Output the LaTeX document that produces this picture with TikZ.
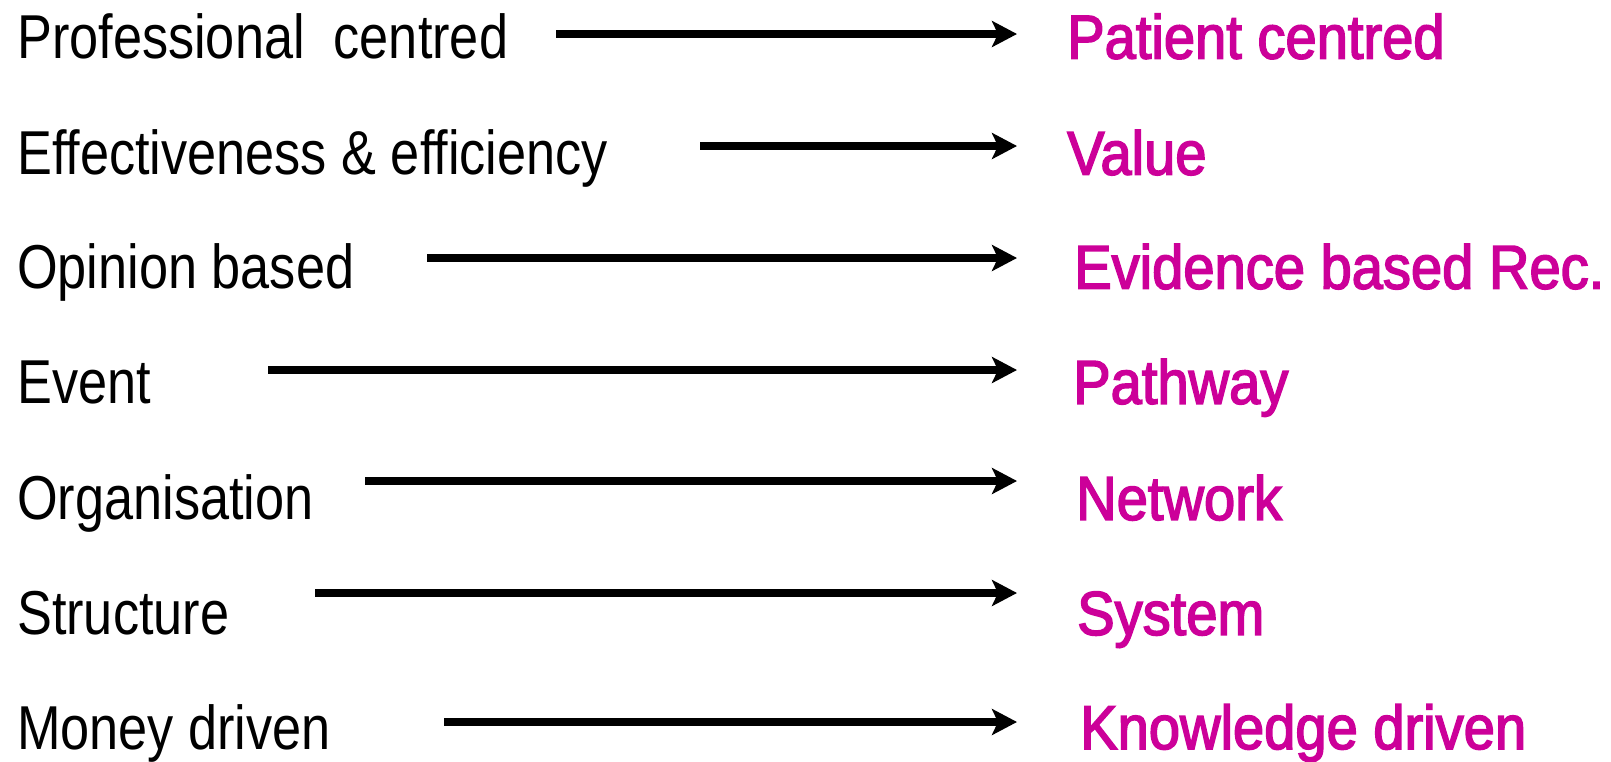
\documentclass[tikz,border=0pt]{standalone}
\usepackage{fontspec}
\setmainfont{Liberation Sans}[FakeStretch=0.843]
\newfontfamily\pinkfont{Liberation Sans}[FakeStretch=0.905,FakeBold=2.5]
\usetikzlibrary{arrows.meta}
\definecolor{pinkt}{RGB}{204,0,153}
\begin{document}
\begin{tikzpicture}[x=1pt,y=-1pt,
  lefttxt/.style={anchor=base west,inner sep=0pt,font=\fontsize{62}{70}\selectfont},
  righttxt/.style={anchor=base west,inner sep=0pt,text=pinkt,font=\pinkfont\fontsize{62}{70}\selectfont},
  arr/.style={line width=8pt,-{Stealth[length=25pt,width=26pt,inset=6pt]}}]
\useasboundingbox (0,0) rectangle (1611,761);
% left texts
\node[lefttxt] (l1) at (17,58.6) {Professional\ \ centred};
\node[lefttxt] (l2) at (17,174.7) {Effectiveness \& efficiency};
\node[lefttxt] (l3) at (17,288.7) {Opinion based};
\node[lefttxt] (l4) at (17,403.8) {Event};
\node[lefttxt] (l5) at (17,519.9) {Organisation};
\node[lefttxt] (l6) at (17,634.9) {Structure};
\node[lefttxt] (l7) at (17,749) {Money driven};
% right texts
\node[righttxt] (r1) at (1067,58.6) {Patient centred};
\node[righttxt] (r2) at (1067,174.7) {Value};
\node[righttxt] (r3) at (1074,288.7) {Evidence based Rec.};
\node[righttxt] (r4) at (1073,403.8) {Pathway};
\node[righttxt] (r5) at (1076,519.9) {Network};
\node[righttxt] (r6) at (1077,634.9) {System};
\node[righttxt] (r7) at (1080,749) {Knowledge driven};
% arrow ends
\coordinate (s1) at (556,34);  \coordinate (e1) at (1017,34);
\coordinate (s2) at (700,146); \coordinate (e2) at (1017,146);
\coordinate (s3) at (427,258); \coordinate (e3) at (1017,258);
\coordinate (s4) at (268,370); \coordinate (e4) at (1017,370);
\coordinate (s5) at (365,481); \coordinate (e5) at (1017,481);
\coordinate (s6) at (315,593); \coordinate (e6) at (1017,593);
\coordinate (s7) at (444,722); \coordinate (e7) at (1017,722);
\foreach \i in {1,...,7} {\draw[arr] (s\i) -- (e\i);}
\end{tikzpicture}
\end{document}
